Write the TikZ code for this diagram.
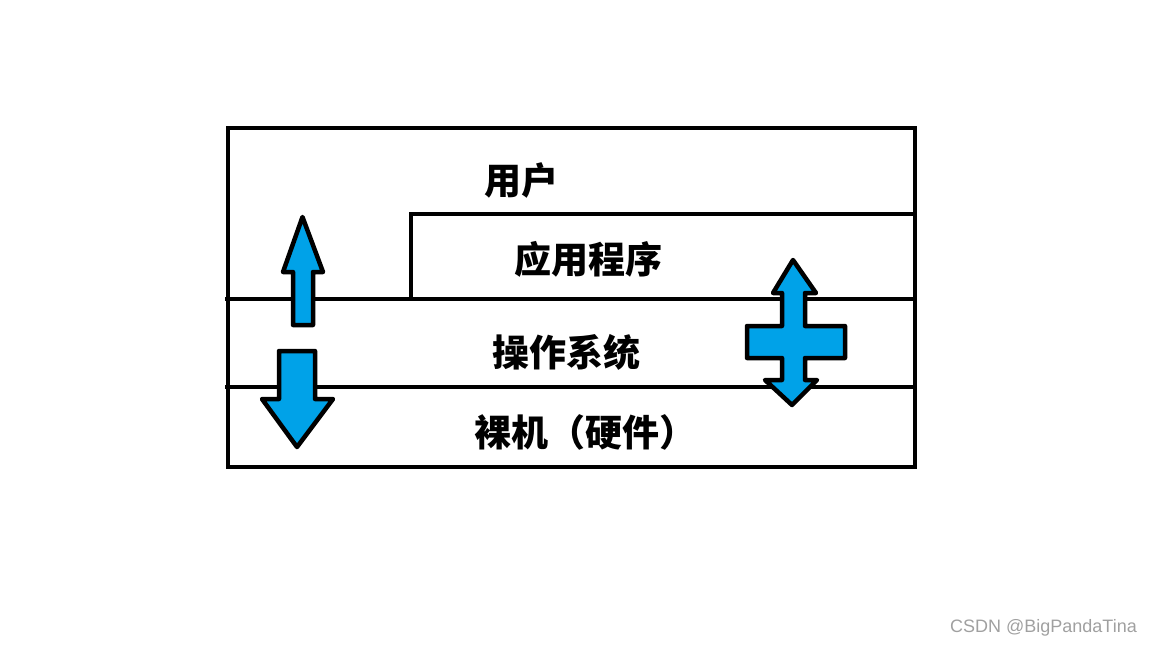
\documentclass[tikz,border=0pt]{standalone}
\usepackage{fontspec}
\newfontfamily\cjk{Noto Sans CJK SC}
\setsansfont{Liberation Sans}
\definecolor{arrowblue}{HTML}{00A2E8}
\definecolor{wmgray}{HTML}{A0A0A0}
\begin{document}
\begin{tikzpicture}[x=1pt,y=-1pt,
  frame/.style={line width=4.5pt},
  layer/.style={line width=4.5pt},
  blockarrow/.style={fill=arrowblue,draw=black,line width=4.5pt,line join=round},
  label/.style={font=\cjk\bfseries\fontsize{37}{42}\selectfont,inner sep=0pt,anchor=center},
  watermark/.style={font=\sffamily\fontsize{18}{21}\selectfont,text=wmgray,inner sep=0pt,anchor=east}]
\useasboundingbox (0,0) rectangle (1152,648);
% outer frame
\draw[frame] (228,128) rectangle (915,467);
% layer lines
\draw[layer] (411,299) -- (411,214) -- (915,214);
\draw[layer] (225,299) -- (915,299);
\draw[layer] (225,387) -- (915,387);
% labels
\node[label] (user) at (521,180) {用户};
\node[label] (app) at (588,259) {应用程序};
\node[label] (os) at (566,352) {操作系统};
\node[label] (hw) at (585,432) {裸机（硬件）};
% up arrow
\draw[blockarrow] (302.5,217) -- (323,272) -- (313,272) -- (313,325) -- (293,325) -- (293,272) -- (283,272) -- cycle;
% down arrow
\draw[blockarrow] (279,351) -- (315,351) -- (315,399) -- (333,399) -- (297,447) -- (262,399) -- (279,399) -- cycle;
% cross arrow
\draw[blockarrow] (793,260) -- (816,293) -- (805,293) -- (805,326) -- (845,326) -- (845,358) -- (805,358) -- (805,380) -- (817,380) -- (792,405) -- (765,380) -- (782,380) -- (782,358) -- (747,358) -- (747,326) -- (782,326) -- (782,293) -- (773,293) -- cycle;
% watermark
\node[watermark] (wm) at (1137,628) {CSDN @BigPandaTina};
\end{tikzpicture}
\end{document}
